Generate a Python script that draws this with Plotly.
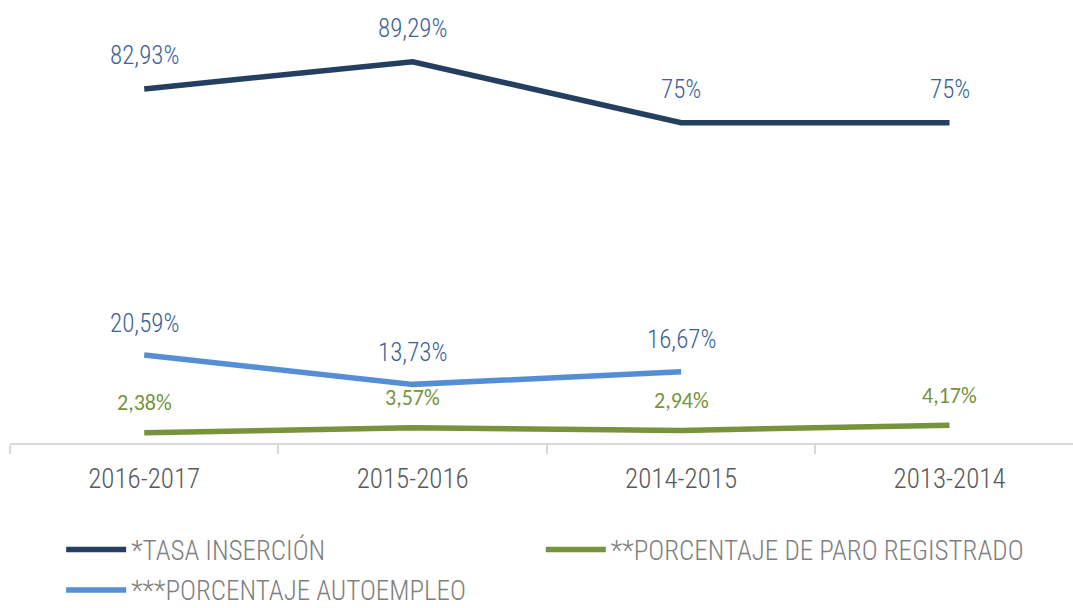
import plotly.graph_objects as go

categories = ["2016-2017", "2015-2016", "2014-2015", "2013-2014"]
tasa_insercion = [82.93, 89.29, 75, 75]
paro_registrado = [2.38, 3.57, 2.94, 4.17]
autoempleo = [20.59, 13.73, 16.67, None]

series_names = ["*TASA INSERCIÓN", "**PORCENTAJE DE PARO REGISTRADO", "***PORCENTAJE AUTOEMPLEO"]

NAVY = "#243F60"
GREEN = "#77933C"
LBLUE = "#558ED5"
LABEL_BLUE = "#3A6296"
NARROW = "Roboto Condensed, Roboto, sans-serif"
CALIBRI = "Carlito, Lato, sans-serif"


def fmt(v):
    s = f"{v:.2f}".rstrip("0").rstrip(".")
    return s.replace(".", ",") + "%"


fig = go.Figure()
fig.add_trace(go.Scatter(x=categories, y=tasa_insercion, mode="lines", name=series_names[0],
                         line=dict(color=NAVY, width=5.5), legend="legend"))
fig.add_trace(go.Scatter(x=categories, y=paro_registrado, mode="lines", name=series_names[1],
                         line=dict(color=GREEN, width=5.5), legend="legend2"))
fig.add_trace(go.Scatter(x=categories, y=autoempleo, mode="lines", name=series_names[2],
                         line=dict(color=LBLUE, width=5.5), legend="legend3"))

annotations = []
for vals, col, fnt, size, weight, shift in [
    (tasa_insercion, LABEL_BLUE, NARROW, 25, 300, 33),
    (autoempleo, LABEL_BLUE, NARROW, 25, 300, 32),
    (paro_registrado, GREEN, CALIBRI, 22, 400, 30),
]:
    for c, v in zip(categories, vals):
        if v is None:
            continue
        annotations.append(dict(x=c, y=v, xref="x", yref="y", text=fmt(v), showarrow=False,
                                yshift=shift, yanchor="middle",
                                font=dict(family=fnt, size=size, color=col, weight=weight)))

legend_style = dict(orientation="h", xref="container", yref="container",
                    xanchor="left", yanchor="middle",
                    font=dict(family=NARROW, size=27, color="#808080", weight=300), itemwidth=60,
                    bgcolor="rgba(0,0,0,0)")

fig.update_layout(
    width=1073, height=608,
    margin=dict(l=10, r=0, t=16, b=165),
    paper_bgcolor="white", plot_bgcolor="white",
    xaxis=dict(type="category", range=[-0.5, 3.46], showgrid=False, showline=True,
               linecolor="#D9D9D9", linewidth=1.5, ticks="outside", tickson="boundaries",
               ticklen=9, tickcolor="#D9D9D9", tickwidth=1.5,
               tickfont=dict(family=NARROW, size=27, color="#595959", weight=300),
               ticklabelstandoff=11, fixedrange=True),
    yaxis=dict(range=[0, 100], visible=False, fixedrange=True),
    annotations=annotations,
    legend=dict(x=0.057, y=0.0954, **legend_style),
    legend2=dict(x=0.504, y=0.0954, **legend_style),
    legend3=dict(x=0.057, y=0.029, **legend_style),
    showlegend=True,
)

fig.write_html("out.html")
